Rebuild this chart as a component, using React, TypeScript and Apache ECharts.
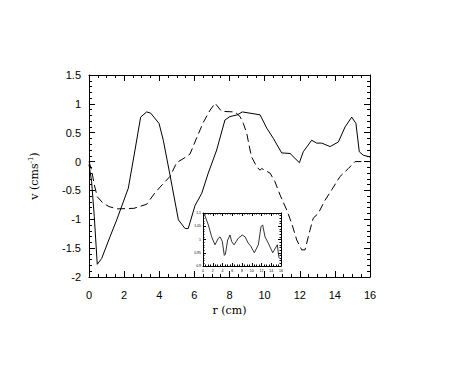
import React, { useEffect, useRef } from "react";
import * as echarts from "echarts";

const solidR = [0, 0.15, 0.3, 0.47, 0.72, 1.2, 1.58, 2.24, 2.62, 2.94, 3.28, 3.51, 3.99, 4.23, 4.61, 5.09, 5.47, 5.65, 6.04, 6.42, 6.79, 7.27, 7.74, 8.03, 8.45, 8.73, 9.74, 10.12, 10.5, 10.97, 11.45, 11.98, 12.2, 12.68, 12.96, 13.25, 13.73, 14.2, 14.58, 14.96, 15.2, 15.39, 15.62, 16];
const solidV = [-0.05, -0.35, -0.95, -1.78, -1.68, -1.3, -1.01, -0.46, 0.2, 0.77, 0.86, 0.84, 0.66, 0.37, -0.23, -1.01, -1.16, -1.16, -0.76, -0.55, -0.2, 0.2, 0.72, 0.78, 0.81, 0.86, 0.81, 0.58, 0.4, 0.15, 0.14, -0.02, 0.17, 0.37, 0.32, 0.32, 0.26, 0.34, 0.6, 0.77, 0.66, 0.17, 0.11, 0.08];

const dashedR = [0, 0.15, 0.3, 0.47, 0.8, 1.14, 1.6, 2.56, 3.28, 3.76, 4.23, 4.61, 4.99, 5.47, 5.75, 6.13, 6.51, 6.89, 7.18, 7.55, 8.31, 8.6, 8.79, 8.98, 9.17, 9.26, 9.55, 9.74, 9.83, 10.31, 10.59, 10.88, 11.26, 11.54, 11.83, 12.11, 12.3, 12.58, 12.77, 13.05, 13.44, 13.82, 14.29, 14.77, 15.15, 16];
const dashedV = [0, -0.15, -0.4, -0.61, -0.72, -0.78, -0.82, -0.81, -0.74, -0.54, -0.38, -0.26, -0.02, 0.07, 0.13, 0.41, 0.68, 0.89, 1.01, 0.87, 0.86, 0.78, 0.66, 0.49, 0.2, 0.08, -0.09, -0.15, -0.12, -0.2, -0.35, -0.58, -0.84, -1.07, -1.36, -1.53, -1.53, -1.19, -0.98, -0.9, -0.67, -0.49, -0.26, -0.12, 0, 0];

const insetR = [0.3, 1.09, 1.78, 2.46, 3.15, 3.49, 3.96, 4.37, 4.6, 5.06, 5.54, 5.88, 6.36, 7.25, 8.07, 8.62, 9.29, 9.8, 10.53, 11.35, 11.9, 12.24, 12.72, 13.4, 14.3, 15.24, 15.45, 15.6];
const insetV = [1.095, 1.055, 1.01, 0.98, 1.005, 1.01, 0.993, 0.94, 0.945, 0.998, 1.017, 0.992, 0.98, 1.005, 1.017, 1.01, 0.986, 0.975, 0.95, 0.98, 1.048, 1.055, 1.01, 0.986, 0.95, 0.98, 0.95, 0.93];

const xTicks = { min: 0, max: 16, interval: 2 };
const yTicks = { min: -2, max: 1.5, interval: 0.5 };
const insetXTicks = { min: 0, max: 16, interval: 2 };
const insetYTicks = { min: 0.9, max: 1.1, interval: 0.05 };

const SERIF = "DejaVu Serif";
const SANS = "Liberation Sans";

const zip = (a: number[], b: number[]) => a.map((v, i) => [v, b[i]]);

export default function App() {
  const ref = useRef<HTMLDivElement>(null);
  useEffect(() => {
    if (!ref.current) return;
    const chart = echarts.init(ref.current, null, { renderer: "svg" });
    const line = { lineStyle: { color: "#000", width: 1 } };
    const lbl = (label: boolean, big: boolean, margin: number): any =>
      label
        ? {
            show: true,
            color: "#000",
            fontFamily: SANS,
            fontSize: big ? 11 : 3.5,
            margin,
            showMinLabel: true,
            showMaxLabel: true,
            hideOverlap: false,
            interval: 0,
            formatter: (v: number) => String(Math.round(v * 100) / 100),
          }
        : { show: false };
    const mkX = (gridIndex: number, pos: string, label: boolean, t: any, big: boolean): any => ({
      type: "value",
      gridIndex,
      position: pos,
      min: t.min,
      max: t.max,
      interval: t.interval,
      axisLine: { show: true, onZero: false, ...line },
      axisTick: { show: true, inside: true, length: big ? 6 : 3, ...line },
      minorTick: { show: true, splitNumber: 4, length: big ? 3 : 1.5, ...line },
      splitLine: { show: false },
      axisLabel: lbl(label, big, big ? 12 : 3),
    });
    const mkY = (gridIndex: number, pos: string, label: boolean, t: any, big: boolean): any => ({
      type: "value",
      gridIndex,
      position: pos,
      min: t.min,
      max: t.max,
      interval: t.interval,
      axisLine: { show: true, onZero: false, ...line },
      axisTick: { show: true, inside: true, length: big ? 6 : 3, ...line },
      minorTick: { show: true, splitNumber: 5, length: big ? 3 : 1.5, ...line },
      splitLine: { show: false },
      axisLabel: lbl(label, big, big ? 8 : 2),
    });
    const xMain = mkX(0, "bottom", true, xTicks, true);
    xMain.name = "r (cm)";
    xMain.nameLocation = "middle";
    xMain.nameGap = 23;
    xMain.nameTextStyle = { color: "#000", fontFamily: SERIF, fontSize: 11 };
    const yMain = mkY(0, "left", true, yTicks, true);
    yMain.name = "{a|v (cms}{s|-1}{a|)}";
    yMain.nameLocation = "middle";
    yMain.nameGap = 48;
    yMain.nameRotate = 90;
    yMain.nameTextStyle = {
      color: "#000",
      fontFamily: SERIF,
      fontSize: 11,
      rich: {
        a: { fontFamily: SERIF, fontSize: 11, color: "#000" },
        s: { fontFamily: SERIF, fontSize: 7, color: "#000", padding: [0, 0, 7, 0] },
      },
    };
    chart.setOption({
      animation: false,
      backgroundColor: "#fff",
      textStyle: { fontFamily: SANS },
      grid: [
        { left: 89, top: 75, width: 281, height: 202, containLabel: false },
        { left: 203, top: 213, width: 78, height: 53, show: true, backgroundColor: "#fff", borderWidth: 0 },
      ],
      xAxis: [
        xMain,
        mkX(0, "top", false, xTicks, true),
        mkX(1, "bottom", true, insetXTicks, false),
        mkX(1, "top", false, insetXTicks, false),
      ],
      yAxis: [
        yMain,
        mkY(0, "right", false, yTicks, true),
        mkY(1, "left", true, insetYTicks, false),
        mkY(1, "right", false, insetYTicks, false),
      ],
      series: [
        {
          type: "line",
          xAxisIndex: 0,
          yAxisIndex: 0,
          data: zip(solidR, solidV),
          showSymbol: false,
          lineStyle: { color: "#000", width: 1 },
        },
        {
          type: "line",
          xAxisIndex: 0,
          yAxisIndex: 0,
          data: zip(dashedR, dashedV),
          showSymbol: false,
          lineStyle: { color: "#000", width: 1, type: [8, 4] },
        },
        {
          type: "line",
          xAxisIndex: 2,
          yAxisIndex: 2,
          data: zip(insetR, insetV),
          showSymbol: false,
          lineStyle: { color: "#000", width: 0.8 },
        },
      ],
    });
    return () => chart.dispose();
  }, []);
  return <div ref={ref} style={{ position: "absolute", left: 0, top: 0, width: 449, height: 367 }} />;
}
